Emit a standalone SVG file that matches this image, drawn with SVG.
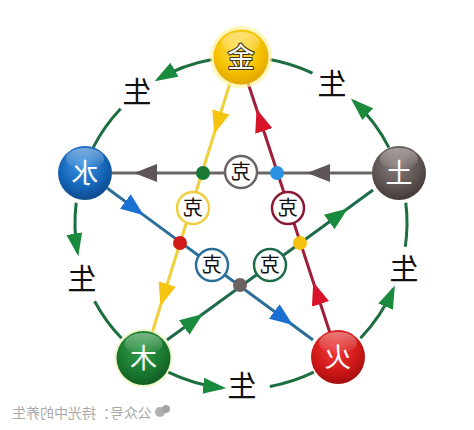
<svg xmlns="http://www.w3.org/2000/svg" width="474" height="430" viewBox="0 0 474 430">
<style>
.arc{fill:none;stroke:#1d6e3e;stroke-width:3}
.sl{fill:none;stroke-width:3}
.ke{fill:#fff;stroke-width:2.5}
.kt{font-family:"Noto Sans CJK SC","Noto Sans",sans-serif;font-size:20px;fill:#111;text-anchor:middle}
.st{font-family:"Noto Sans CJK SC","Noto Sans",sans-serif;font-size:29px;fill:#111;text-anchor:middle}
.nt{font-family:"Noto Sans CJK SC","Noto Sans",sans-serif;font-size:27px;fill:#fff;text-anchor:middle}
.wm{font-family:"Noto Sans CJK SC","Noto Sans",sans-serif;font-size:14px;fill:#a8a8a8;text-anchor:middle}
</style>
<defs>
<marker id="mG" markerUnits="userSpaceOnUse" markerWidth="24" markerHeight="16" refX="19" refY="8" orient="auto"><path d="M0,0 L23,8 L0,16 z" fill="#1a8a3c"/></marker>
<marker id="mS" markerUnits="userSpaceOnUse" markerWidth="24" markerHeight="18" refX="22" refY="9" orient="auto"><path d="M0,0 L23,9 L0,18 z" fill="#1a8a3c"/></marker>
<marker id="mY" markerUnits="userSpaceOnUse" markerWidth="24" markerHeight="18" refX="22" refY="9" orient="auto"><path d="M0,0 L23,9 L0,18 z" fill="#f5c410"/></marker>
<marker id="mR" markerUnits="userSpaceOnUse" markerWidth="24" markerHeight="18" refX="22" refY="9" orient="auto"><path d="M0,0 L23,9 L0,18 z" fill="#d8142a"/></marker>
<marker id="mB" markerUnits="userSpaceOnUse" markerWidth="24" markerHeight="18" refX="22" refY="9" orient="auto"><path d="M0,0 L23,9 L0,18 z" fill="#1a6fd0"/></marker>
<marker id="mK" markerUnits="userSpaceOnUse" markerWidth="24" markerHeight="18" refX="22" refY="9" orient="auto"><path d="M0,0 L23,9 L0,18 z" fill="#5e5656"/></marker>
<radialGradient id="gJin" cx="0.45" cy="0.35" r="0.7"><stop offset="0" stop-color="#ffe35a"/><stop offset="0.6" stop-color="#f5c000"/><stop offset="1" stop-color="#dea000"/></radialGradient>
<radialGradient id="gShui" cx="0.45" cy="0.35" r="0.7"><stop offset="0" stop-color="#3d95e6"/><stop offset="0.6" stop-color="#1565b8"/><stop offset="1" stop-color="#0c4585"/></radialGradient>
<radialGradient id="gTu" cx="0.45" cy="0.35" r="0.7"><stop offset="0" stop-color="#8a7e7c"/><stop offset="0.6" stop-color="#5e5452"/><stop offset="1" stop-color="#3e3634"/></radialGradient>
<radialGradient id="gMu" cx="0.45" cy="0.35" r="0.7"><stop offset="0" stop-color="#2e9a48"/><stop offset="0.6" stop-color="#1a7a30"/><stop offset="1" stop-color="#0e5520"/></radialGradient>
<radialGradient id="gHuo" cx="0.45" cy="0.35" r="0.7"><stop offset="0" stop-color="#f03a3a"/><stop offset="0.6" stop-color="#d01818"/><stop offset="1" stop-color="#9a0c0c"/></radialGradient>
<linearGradient id="gloss" x1="0" y1="0" x2="0" y2="1"><stop offset="0" stop-color="#fff" stop-opacity="0.4"/><stop offset="1" stop-color="#fff" stop-opacity="0"/></linearGradient>
</defs>
<rect width="474" height="430" fill="#fff"/>

<g id="connectors">
<path class="arc" d="M212.2,59.5 A166,166 0 0 0 158,79.2" marker-end="url(#mG)"/>
<path class="arc" d="M120.6,108.7 A166,166 0 0 0 93.1,147.6"/>
<path class="arc" d="M76.2,202.8 A166,166 0 0 0 77.6,252.4" marker-end="url(#mG)"/>
<path class="arc" d="M94.6,301.2 A166,166 0 0 0 121.6,338.3"/>
<path class="arc" d="M168.2,372.2 A166,166 0 0 0 222.2,387.9" marker-end="url(#mG)"/>
<path class="arc" d="M269.8,386.5 A166,166 0 0 0 313.8,372.2"/>
<path class="arc" d="M360.4,338.3 A166,166 0 0 0 393.2,289.2" marker-end="url(#mG)"/>
<path class="arc" d="M405.3,246.7 A166,166 0 0 0 405.8,202.8"/>
<path class="arc" d="M388.9,147.6 A166,166 0 0 0 353.8,101.2" marker-end="url(#mG)"/>
<path class="arc" d="M312.5,73.2 A166,166 0 0 0 269.8,59.5"/>

<path class="sl" stroke="#6a6464" d="M372,173 L308,173 L135,173 L112,173" marker-mid="url(#mK)"/>
<path class="sl" stroke="#f0cf3a" d="M230,83 L214.4,133 L160.7,305 L152,333" marker-mid="url(#mY)"/>
<path class="sl" stroke="#a01e3a" d="M330,333 L313.6,283 L256.9,110 L248,83" marker-mid="url(#mR)"/>
<path class="sl" stroke="#2b6f98" d="M107,188 L143,214.6 L292,324.5 L313,340" marker-mid="url(#mB)"/>
<path class="sl" stroke="#1e6b4a" d="M167,340 L202,314.5 L347,209 L373,190" marker-mid="url(#mS)"/>
</g>

<g id="dots">
<circle cx="203" cy="173" r="7" fill="#1a7a35"/>
<circle cx="277" cy="173" r="7" fill="#2a90e0"/>
<circle cx="180" cy="243" r="7" fill="#d01a1a"/>
<circle cx="300" cy="243" r="7" fill="#f5c010"/>
<circle cx="240" cy="285" r="7" fill="#6a6262"/>
</g>

<g id="ke1"><circle class="ke" cx="241" cy="172" r="16" stroke="#6a6464"/><text class="kt" transform="translate(241,179) scale(-1,1)">克</text></g>
<g id="ke2"><circle class="ke" cx="193" cy="208" r="16" stroke="#f0d040"/><text class="kt" transform="translate(193,215) scale(-1,1)">克</text></g>
<g id="ke3"><circle class="ke" cx="288" cy="208" r="16" stroke="#8a1a34"/><text class="kt" transform="translate(288,215) scale(-1,1)">克</text></g>
<g id="ke4"><circle class="ke" cx="212" cy="265" r="16" stroke="#2b6f98"/><text class="kt" transform="translate(212,272) scale(-1,1)">克</text></g>
<g id="ke5"><circle class="ke" cx="270" cy="265" r="16" stroke="#1e6b4a"/><text class="kt" transform="translate(270,272) scale(-1,1)">克</text></g>

<g id="jin">
<circle cx="241" cy="57" r="31" fill="#fff3a0" opacity="0.7"/>
<circle cx="241" cy="57" r="27.5" fill="url(#gJin)"/>
<ellipse cx="241" cy="43" rx="19" ry="11" fill="url(#gloss)"/>
<text class="nt" transform="translate(241,66.5) scale(-1,1)" stroke="#3a3010" stroke-width="2.2" paint-order="stroke" stroke-linejoin="round">金</text>
</g>
<g id="shui">
<circle cx="85" cy="173" r="27" fill="url(#gShui)"/>
<ellipse cx="85" cy="159" rx="19" ry="11" fill="url(#gloss)"/>
<text class="nt" transform="translate(85,182.5) scale(-1,1)">水</text>
</g>
<g id="tu">
<circle cx="399" cy="173" r="27" fill="url(#gTu)"/>
<ellipse cx="399" cy="159" rx="19" ry="11" fill="url(#gloss)"/>
<text class="nt" transform="translate(399,182.5) scale(-1,1)">土</text>
</g>
<g id="mu">
<circle cx="143.5" cy="358" r="29" fill="#e8f2a0" opacity="0.6"/>
<circle cx="143.5" cy="358" r="27" fill="url(#gMu)"/>
<ellipse cx="143.5" cy="344" rx="19" ry="11" fill="url(#gloss)"/>
<text class="nt" transform="translate(143.5,367.5) scale(-1,1)">木</text>
</g>
<g id="huo">
<circle cx="338" cy="357" r="27" fill="url(#gHuo)"/>
<ellipse cx="338" cy="343" rx="19" ry="11" fill="url(#gloss)"/>
<text class="nt" transform="translate(338,366.5) scale(-1,1)">火</text>
</g>

<g id="labels">
<text class="st" transform="translate(137,103) scale(-1,1)">生</text>
<text class="st" transform="translate(332,95) scale(-1,1)">生</text>
<text class="st" transform="translate(82,290) scale(-1,1)">生</text>
<text class="st" transform="translate(404,280) scale(-1,1)">生</text>
<text class="st" transform="translate(242,397) scale(-1,1)">生</text>
</g>

<g id="watermark">
<text class="wm" transform="translate(82,418) scale(-1,1)">公众号：持光中的养生</text>
<circle cx="160" cy="412" r="5" fill="#b0b0b0"/>
<circle cx="166" cy="409" r="4" fill="#a4a4a4"/>
</g>
</svg>
